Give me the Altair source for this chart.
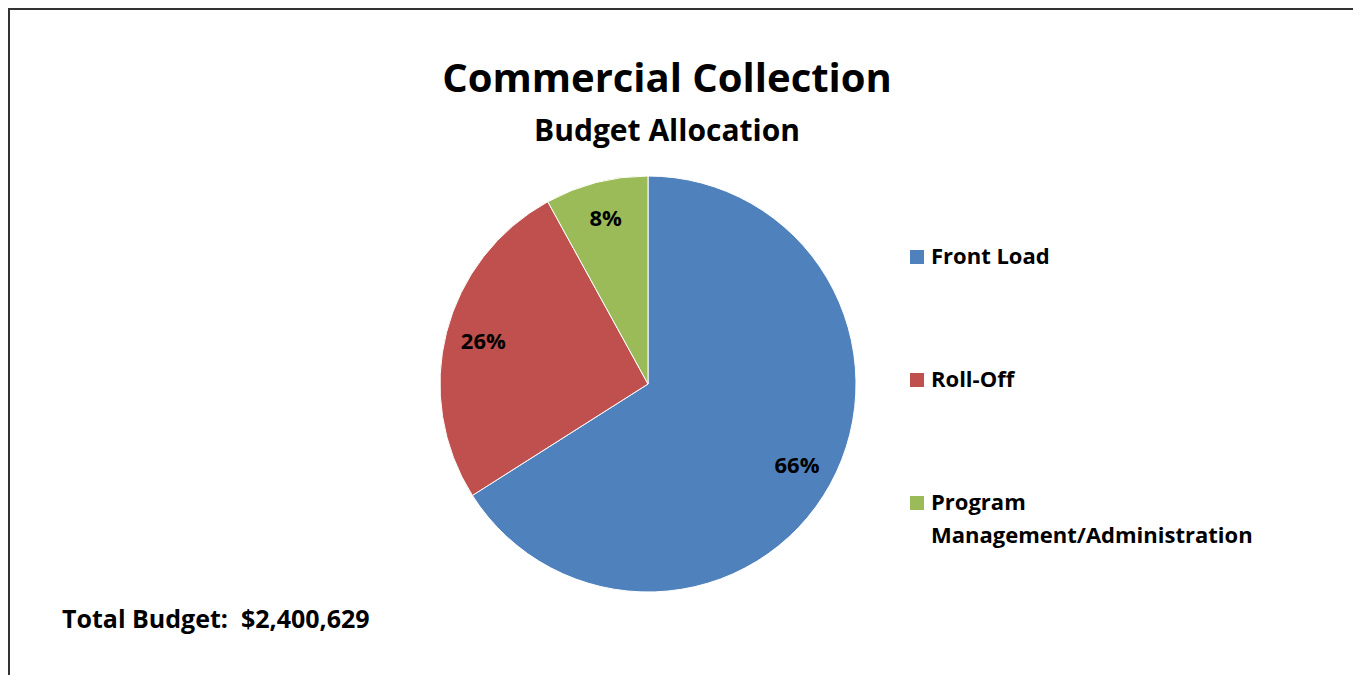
import altair as alt
import pandas as pd

# Budget shares (percent of total)
categories = ["Front Load", "Roll-Off", "Program Management/Administration"]
legend_labels = ["Front Load", "Roll-Off", "Program\nManagement/Administration"]
shares = [66, 26, 8]
colors = ["#4F81BD", "#C0504D", "#9BBB59"]

title_text = "Commercial Collection"
subtitle_text = "Budget Allocation"
total_text = "Total Budget:\u00a0\u00a0$2,400,629"

FONT = "Open Sans"
W, H = 1345, 667
CX, CY, R = 640, 376, 208

df = pd.DataFrame({
    "category": categories,
    "legend_label": legend_labels,
    "share": shares,
    "order": list(range(len(categories))),
})
df["label"] = df["share"].astype(str) + "%"

base = alt.Chart(df)

color_scale = alt.Scale(domain=categories, range=colors)

pie = base.mark_arc(stroke="white", strokeWidth=1).encode(
    theta=alt.Theta("share:Q", stack=True),
    order=alt.Order("order:Q"),
    color=alt.Color("category:N", scale=color_scale, legend=None),
    x=alt.value(CX),
    y=alt.value(CY),
    radius=alt.value(R),
)

pct = base.mark_text(
    font=FONT, fontSize=22, fontWeight="bold", color="black"
).encode(
    theta=alt.Theta("share:Q", stack=True),
    order=alt.Order("order:Q"),
    text="label:N",
    x=alt.value(CX),
    y=alt.value(CY),
    radius=alt.value(170),
)

# Legend drawn as its own layer: one entry per category down the right side
legend_y = alt.Y(
    "category:N",
    scale=alt.Scale(domain=categories, range=[249, 495], padding=0),
    axis=None,
)
legend_swatch = base.mark_square(size=196, opacity=1).encode(
    x=alt.value(909),
    y=legend_y,
    color=alt.Color("category:N", scale=color_scale, legend=None),
)
legend_text = base.mark_text(
    font=FONT, fontSize=22, fontWeight="bold", color="black",
    align="left", baseline="middle", lineBreak="\n", lineHeight=33,
).encode(
    x=alt.value(923),
    y=legend_y,
    text="legend_label:N",
)

one = alt.Data(values=[{}])

title = alt.Chart(one).mark_text(
    font=FONT, fontSize=40, fontWeight="bold", color="black", align="center", baseline="alphabetic"
).encode(x=alt.value(659), y=alt.value(84), text=alt.value(title_text))

subtitle = alt.Chart(one).mark_text(
    font=FONT, fontSize=30, fontWeight="bold", color="black", align="center", baseline="alphabetic"
).encode(x=alt.value(659), y=alt.value(133), text=alt.value(subtitle_text))

total = alt.Chart(one).mark_text(
    font=FONT, fontSize=25, fontWeight="bold", color="black", align="left", baseline="alphabetic"
).encode(x=alt.value(54), y=alt.value(620), text=alt.value(total_text))

# Frame lines along the top and left edge
left_edge = alt.Chart(one).mark_rule(color="#333333", strokeWidth=2).encode(
    x=alt.value(1), y=alt.value(0), y2=alt.value(H)
)
top_edge = alt.Chart(one).mark_rule(color="#333333", strokeWidth=2).encode(
    x=alt.value(0), x2=alt.value(W), y=alt.value(1)
)

chart = alt.layer(
    left_edge, top_edge, pie, pct, legend_swatch, legend_text, title, subtitle, total
).resolve_scale(y="independent").properties(
    width=W,
    height=H,
    padding={"left": 8, "top": 8, "right": 0, "bottom": 0},
    autosize=alt.AutoSizeParams(type="none"),
    background="white",
).configure_view(stroke=None)

chart.save("out.html", embed_options={"renderer": "svg", "actions": False})
